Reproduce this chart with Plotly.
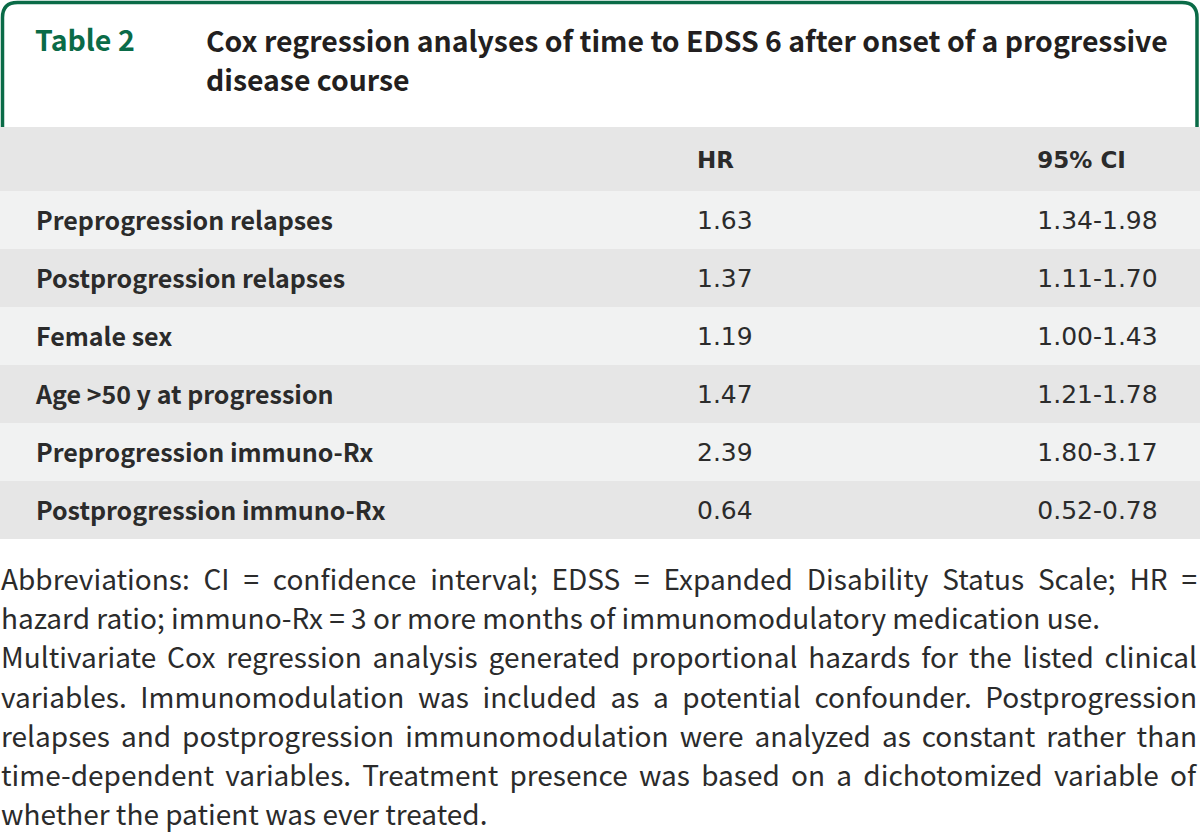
import plotly.graph_objects as go

W, H = 1200, 833

# ---- data ----
variables = [
    "Preprogression relapses",
    "Postprogression relapses",
    "Female sex",
    "Age >50 y at progression",
    "Preprogression immuno-Rx",
    "Postprogression immuno-Rx",
]
hr_values = ["1.63", "1.37", "1.19", "1.47", "2.39", "0.64"]
ci_values = ["1.34-1.98", "1.11-1.70", "1.00-1.43", "1.21-1.78", "1.80-3.17", "0.52-0.78"]
col_headers = ["HR", "95% CI"]

table_label = "Table 2"
title_lines = [
    "Cox regression analyses of time to EDSS 6 after onset of a progressive",
    "disease course",
]
footnote_lines = [
    "Abbreviations: CI = confidence interval; EDSS = Expanded Disability Status Scale; HR =",
    "hazard ratio; immuno-Rx = 3 or more months of immunomodulatory medication use.",
    "Multivariate Cox regression analysis generated proportional hazards for the listed clinical",
    "variables. Immunomodulation was included as a potential confounder. Postprogression",
    "relapses and postprogression immunomodulation were analyzed as constant rather than",
    "time-dependent variables. Treatment presence was based on a dichotomized variable of",
    "whether the patient was ever treated.",
]
justified = [True, False, True, True, True, True, False]

# ---- layout constants (pixels) ----
GREEN = "#0A6B47"
TEXT = "#2B2B2B"
HEAD_FILL = "#E6E6E6"
ROW_FILLS = ["#F1F2F2", "#E6E6E6"]
TABLE_TOP = 127
HEADER_H = 64
ROW_H = 58
LABEL_DY = 2
VALUE_DY = 11
HEAD_DY = 12
LABEL_COLS = [28, 661]
VALUE_COLS = [341, 170]
SPLIT_X = sum(LABEL_COLS)
CJK = "Noto Sans CJK JP"
NUM = "DejaVu Sans"


def px_x(x):
    return x / W


def px_y(y):
    return 1 - y / H


n = len(variables)
table_bottom = TABLE_TOP + HEADER_H + n * ROW_H
row_fill = [ROW_FILLS[i % 2] for i in range(n)]
spacer = [""] * n
clear = "rgba(0,0,0,0)"

fig = go.Figure()

# background fill table
fig.add_trace(go.Table(
    domain=dict(x=[0, 1], y=[px_y(table_bottom), px_y(TABLE_TOP)]),
    columnwidth=LABEL_COLS + VALUE_COLS,
    header=dict(values=[""] * 4, height=HEADER_H, fill_color=HEAD_FILL,
                line_color=HEAD_FILL, line_width=0),
    cells=dict(values=[spacer] * 4, height=ROW_H, fill_color=[row_fill] * 4,
               line_color=[row_fill] * 4, line_width=0),
))

# label column text
fig.add_trace(go.Table(
    domain=dict(x=[0, px_x(SPLIT_X)],
                y=[px_y(table_bottom + LABEL_DY), px_y(TABLE_TOP + LABEL_DY)]),
    columnwidth=LABEL_COLS,
    header=dict(values=["", ""], height=HEADER_H, fill_color=clear, line_color=clear,
                line_width=0, align="left", font=dict(family=CJK, size=25, color=TEXT)),
    cells=dict(values=[spacer, ["<b>%s</b>" % v for v in variables]],
               height=ROW_H, fill_color=clear, line_color=clear, line_width=0,
               align="left", font=dict(family=CJK, size=25, color=TEXT)),
))

# column header text
fig.add_trace(go.Table(
    domain=dict(x=[px_x(SPLIT_X), 1],
                y=[px_y(TABLE_TOP + HEAD_DY + HEADER_H), px_y(TABLE_TOP + HEAD_DY)]),
    columnwidth=VALUE_COLS,
    header=dict(values=["<b>%s</b>" % h for h in col_headers], height=HEADER_H,
                fill_color=clear, line_color=clear, line_width=0, align="left",
                font=dict(family=NUM, size=23, color=TEXT)),
    cells=dict(values=[[], []], height=ROW_H, fill_color=clear, line_color=clear,
               line_width=0),
))

# value columns text
fig.add_trace(go.Table(
    domain=dict(x=[px_x(SPLIT_X), 1],
                y=[px_y(table_bottom + VALUE_DY), px_y(TABLE_TOP + VALUE_DY)]),
    columnwidth=VALUE_COLS,
    header=dict(values=["", ""], height=HEADER_H,
                fill_color=clear, line_color=clear, line_width=0, align="left",
                font=dict(family=NUM, size=23, color=TEXT)),
    cells=dict(values=[hr_values, ci_values], height=ROW_H, fill_color=clear,
               line_color=clear, line_width=0, align="left",
               font=dict(family=NUM, size=25, color=TEXT)),
))

# green frame around the title block
r = 15
x0, x1, y0, y1 = 2.5, 1197, 2.5, TABLE_TOP
path = (
    f"M {px_x(x0)},{px_y(y1)} L {px_x(x0)},{px_y(y0 + r)} "
    f"Q {px_x(x0)},{px_y(y0)} {px_x(x0 + r)},{px_y(y0)} "
    f"L {px_x(x1 - r)},{px_y(y0)} "
    f"Q {px_x(x1)},{px_y(y0)} {px_x(x1)},{px_y(y0 + r)} "
    f"L {px_x(x1)},{px_y(y1)}"
)
shapes = [dict(type="path", xref="paper", yref="paper", path=path,
               line=dict(color=GREEN, width=3.5))]

annotations = [
    dict(x=px_x(33), y=px_y(38), xref="paper", yref="paper", text="<b>%s</b>" % table_label,
         showarrow=False, xanchor="left", yanchor="middle", align="left",
         font=dict(family=CJK, size=28.5, color=GREEN)),
]
for i, line in enumerate(title_lines):
    annotations.append(dict(
        x=px_x(204), y=px_y(40 + i * 38), xref="paper", yref="paper", text="<b>%s</b>" % line,
        showarrow=False, xanchor="left", yanchor="middle", align="left",
        font=dict(family=CJK, size=28.4, color="#231F20")))

FOOT_START = len(annotations)
for i, line in enumerate(footnote_lines):
    annotations.append(dict(
        x=px_x(-1), y=px_y(578 + i * 39.2), xref="paper", yref="paper", text=line,
        showarrow=False, xanchor="left", yanchor="middle", align="left",
        font=dict(family=CJK, size=28, color=TEXT)))

fig.update_layout(
    width=W, height=H,
    margin=dict(l=0, r=0, t=0, b=0),
    paper_bgcolor="white", plot_bgcolor="white",
    shapes=shapes, annotations=annotations,
    showlegend=False,
)

just_idx = [FOOT_START + i for i, j in enumerate(justified) if j]
post = """
document.body.style.margin = '0';
document.body.style.overflow = 'hidden';
var JUST = %s;
var RIGHT = 1197;
function justifyLines() {
  var gd = document.getElementById('{plot_id}');
  var anns = gd.querySelectorAll('g.annotation');
  JUST.forEach(function(k) {
    var g = anns[k];
    if (!g) return;
    var t = g.querySelector('text.annotation-text');
    if (!t) return;
    t.style.wordSpacing = '0px';
    var n = (t.textContent.match(/ /g) || []).length;
    if (!n) return;
    for (var it = 0; it < 3; it++) {
      var right = t.getBoundingClientRect().right;
      var cur = parseFloat(t.style.wordSpacing) || 0;
      t.style.wordSpacing = (cur + (RIGHT - right) / n) + 'px';
    }
  });
}
if (document.fonts && document.fonts.ready) {
  document.fonts.ready.then(justifyLines);
}
justifyLines();
""" % just_idx

fig.write_html("out.html", post_script=post, config={"displayModeBar": False})
